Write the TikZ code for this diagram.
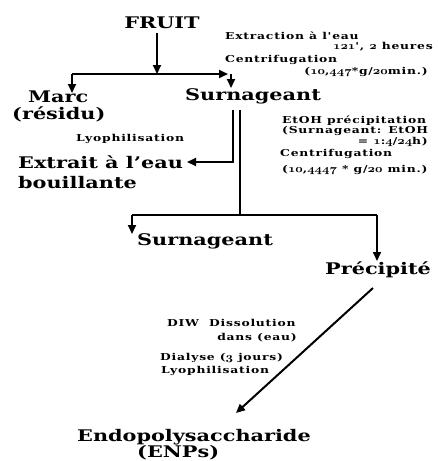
\documentclass[tikz,border=0pt]{standalone}
\usepackage{fontspec}
\usepackage{graphicx}
\newfontfamily\bigf{DejaVu Serif}[FakeStretch=1.3]
\newfontfamily\smallf{DejaVu Serif}[FakeStretch=1.3,LetterSpace=8]
\usetikzlibrary{arrows.meta}
\newcommand\osn[1]{\scalebox{1.4}[1.2]{\usefont{OML}{cmm}{b}{it}#1}}
\tikzset{
  bigtxt/.style={font=\bigf\bfseries\fontsize{16}{18}\selectfont, inner sep=0pt, anchor=base west},
  smalltxt/.style={font=\smallf\bfseries\fontsize{9.5}{11}\selectfont, inner sep=0pt, anchor=base west},
  ln/.style={line width=2pt},
  arr/.style={line width=2pt, -{Triangle[length=9pt,width=8pt]}},
}
\begin{document}
\begin{tikzpicture}[x=1pt,y=-1pt]
\useasboundingbox (0,0) rectangle (437,461);
% big labels
\node[bigtxt, anchor=base] (fruit) at (162,28) {FRUIT};
\node[bigtxt] (marc) at (28,102) {Marc};
\node[bigtxt] (residu) at (12,119) {(résidu)};
\node[bigtxt] (surn1) at (185,100) {Surnageant};
\node[bigtxt] (extrait) at (18,168) {Extrait à l’eau};
\node[bigtxt] (bouil) at (18,188) {bouillante};
\node[bigtxt] (surn2) at (137,245) {Surnageant};
\node[bigtxt] (precip) at (325,274) {Précipité};
\node[bigtxt] (endo) at (77,441) {Endopolysaccharide};
\node[bigtxt] (enps) at (137,457) {(ENPs)};
% small labels
\node[smalltxt] (s1) at (225,39) {Extraction à l'eau};
\node[smalltxt, anchor=base east] (s2) at (433,49) {\osn{121}', \osn{2} heures};
\node[smalltxt] (s3) at (225,62) {Centrifugation};
\node[smalltxt, anchor=base east] (s4) at (428,74) {(\osn{10},\osn{447}*g/\osn{20}min.)};
\node[smalltxt] (s5) at (76,141) {Lyophilisation};
\node[smalltxt] (s6) at (282,123) {EtOH précipitation};
\node[smalltxt] (s7) at (282,133) {(Surnageant: EtOH};
\node[smalltxt, anchor=base east] (s8) at (428,144) {= \osn{1}:\osn{4}/\osn{24}h)};
\node[smalltxt] (s9) at (280,156) {Centrifugation};
\node[smalltxt] (s10) at (282,172) {(\osn{10},\osn{4447} * g/\osn{20} min.)};
\node[smalltxt] (s11) at (167,326) {DIW\ \ Dissolution};
\node[smalltxt, anchor=base east] (s12) at (297,340) {dans (eau)};
\node[smalltxt] (s13) at (160,360) {Dialyse (\osn{3} jours)};
\node[smalltxt] (s14) at (161,373) {Lyophilisation};
% coordinates
\coordinate (f0) at (157,33);
\coordinate (f1) at (157,74);
\coordinate (hl) at (72,74);
\coordinate (hr) at (228,74);
\coordinate (ml) at (72,93);
\coordinate (d0) at (231,74);
\coordinate (d1) at (231,88);
\coordinate (a0) at (233,110);
\coordinate (a1) at (233,162);
\coordinate (a2) at (187,162);
\coordinate (b0) at (240,110);
\coordinate (b1) at (240,215);
\coordinate (c0) at (132,215);
\coordinate (c1) at (132,234);
\coordinate (e0) at (377,215);
\coordinate (e1) at (377,261);
\coordinate (g0) at (373,288);
\coordinate (g1) at (236,413);
% connectors
\draw[arr] (f0) -- (f1);
\draw[arr] (hl) -- (hr);
\draw[arr] (hl) -- (ml);
\draw[arr] (d0) -- (d1);
\draw[arr] (a0) -- (a1) -- (a2);
\draw[ln] (b0) -- (b1);
\draw[ln] (c0) -- (e0);
\draw[arr] (c0) -- (c1);
\draw[arr] (e0) -- (e1);
\draw[arr] (g0) -- (g1);
\end{tikzpicture}
\end{document}
